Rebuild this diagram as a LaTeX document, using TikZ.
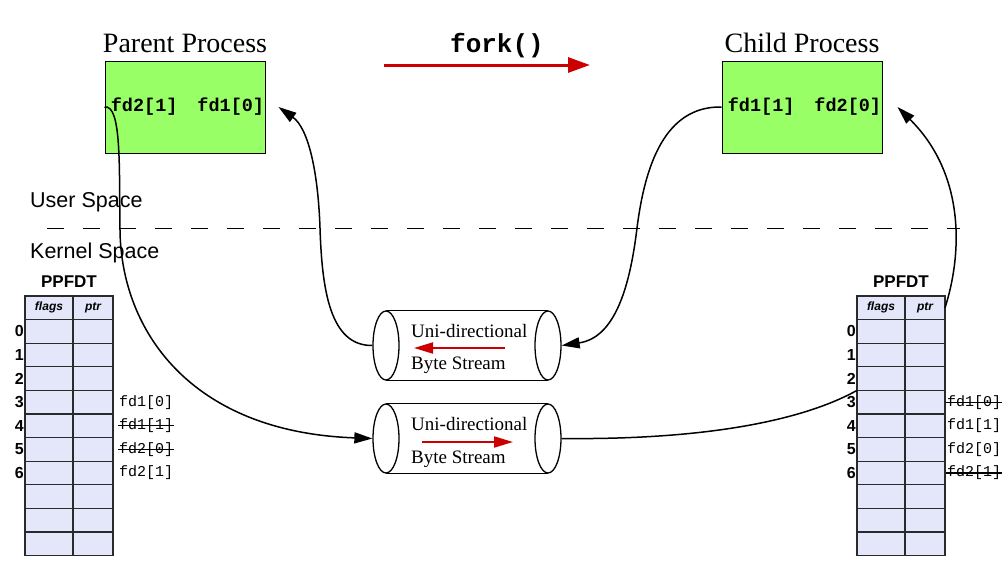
\documentclass[tikz,border=0pt]{standalone}
\usepackage{fontspec}
\setmainfont{Liberation Serif}
\setsansfont{Liberation Sans}
\setmonofont{Liberation Mono}
\usetikzlibrary{shapes.geometric,arrows.meta,positioning}
\definecolor{procgreen}{HTML}{99FF66}
\definecolor{tablefill}{HTML}{E4E6FA}
\definecolor{pipered}{HTML}{CC0000}
\definecolor{gridline}{HTML}{2A2A2A}

\tikzset{
  procbox/.style={rectangle,draw=black,line width=1pt,fill=procgreen,minimum width=160pt,
    minimum height=92pt,inner sep=0pt,font=\ttfamily\bfseries\fontsize{18.5}{20}\selectfont},
  proctitle/.style={inner sep=0pt,anchor=base,font=\fontsize{28}{30}\selectfont},
  spacelabel/.style={inner sep=0pt,anchor=base west,font=\sffamily\fontsize{21.5}{24}\selectfont},
  cell/.style={rectangle,draw=gridline,line width=1.1pt,fill=tablefill,inner sep=0pt,outer sep=0pt,
    minimum height=23.6pt,anchor=north west},
  headtext/.style={font=\sffamily\bfseries\itshape\fontsize{12}{13}\selectfont},
  rownum/.style={inner sep=1pt,anchor=east,font=\sffamily\bfseries\fontsize{16}{17}\selectfont},
  tabtitle/.style={inner sep=0pt,anchor=base,font=\sffamily\bfseries\fontsize{17}{18}\selectfont},
  fdlabel/.style={inner sep=1pt,anchor=west,text=black,font=\ttfamily\fontsize{15}{16}\selectfont},
  strikeline/.style={line width=1.1pt,draw=black},
  pipeend/.style={ellipse,draw,line width=1.3pt,minimum width=26pt,minimum height=69pt,inner sep=0pt},
  pipetext/.style={inner sep=0pt,anchor=base west,font=\fontsize{19}{20}\selectfont},
  conn/.style={line width=1.5pt,-{Triangle[length=18pt,width=11pt]}},
  redarrow/.style={draw=pipered,line width=2pt,-{Triangle[length=19pt,width=11pt]},pipered},
}

% table of one process: #1 prefix, #2 left x
\newcommand{\fdtable}[2]{%
  \node[cell,minimum width=48pt] (#1-h1) at (#2,296) {};
  \node[cell,minimum width=40pt,right=0pt of #1-h1] (#1-h2) {};
  \node[headtext] at (#1-h1) {flags};
  \node[headtext] at (#1-h2) {ptr};
  \foreach \r in {0,...,9}{
    \node[cell,minimum width=48pt] (#1-a\r) at (#2,{319.6+23.6*\r}) {};
    \node[cell,minimum width=40pt,right=0pt of #1-a\r] (#1-b\r) {};
  }
  \foreach \r in {0,...,6}
    \node[rownum,left=0pt of #1-a\r] (#1-n\r) {\r};
  \node[tabtitle] (#1-title) at ({#2+44},287) {PPFDT};
}

% a pipe drawn as a cylinder lying on its side
\newcommand{\bytepipe}[2]{%
  \node[pipeend] (#1-l) at (386,#2) {};
  \node[pipeend] (#1-r) at (548,#2) {};
  \draw[line width=1.3pt] (#1-l.north) -- (#1-r.north) (#1-l.south) -- (#1-r.south);
}

\begin{document}
\begin{tikzpicture}[x=1pt,y=-1pt]
\useasboundingbox (0,0) rectangle (1005,562);

% processes
\node[procbox] (parent) at (185,107) {\hspace{5pt}fd2[1]\hspace{20pt}fd1[0]};
\node[procbox] (child) at (802,107) {\hspace{5pt}fd1[1]\hspace{20pt}fd2[0]};
\node[proctitle] (parentTitle) at ([yshift=8pt]parent.north) {Parent Process};
\node[proctitle] (childTitle) at ([yshift=8pt]child.north) {Child Process};

\node[inner sep=0pt,anchor=base,font=\ttfamily\bfseries\fontsize{26}{28}\selectfont] (forkLabel) at (497,52) {fork()};
\coordinate (forkA) at (384,65);
\coordinate (forkB) at (590,65);
\draw[draw=pipered,line width=3pt,-{Triangle[length=22pt,width=15pt]},pipered] (forkA) -- (forkB);

% user / kernel boundary
\node[spacelabel] (userSpace) at (30,207) {User Space};
\node[spacelabel] (kernelSpace) at (30,258) {Kernel Space};
\draw[line width=1pt,dash pattern=on 17pt off 19pt] (47,228) -- (960,228);

% descriptor tables
\fdtable{L}{25}
\fdtable{R}{857}

\node[fdlabel] (L-fd10) at ([xshift=5pt]L-b3.east) {fd1[0]};
\node[fdlabel] (L-fd11) at ([xshift=5pt]L-b4.east) {fd1[1]};
\node[fdlabel] (L-fd20) at ([xshift=5pt]L-b5.east) {fd2[0]};
\node[fdlabel] (L-fd21) at ([xshift=5pt]L-b6.east) {fd2[1]};
\draw[strikeline] (L-fd11.west) -- (L-fd11.east);
\draw[strikeline] (L-fd20.west) -- (L-fd20.east);

\node[fdlabel] (R-fd10) at ([xshift=1pt]R-b3.east) {fd1[0]};
\node[fdlabel] (R-fd11) at ([xshift=1pt]R-b4.east) {fd1[1]};
\node[fdlabel] (R-fd20) at ([xshift=1pt]R-b5.east) {fd2[0]};
\node[fdlabel] (R-fd21) at ([xshift=1pt]R-b6.east) {fd2[1]};
\draw[strikeline] (R-fd10.west) -- (R-fd10.east);
\draw[strikeline] (R-fd21.west) -- (R-fd21.east);

% pipes
\bytepipe{pipeUp}{345.5}
\bytepipe{pipeDown}{438.5}

\node[pipetext] (upTop) at (411,337) {Uni-directional};
\node[pipetext] (upBot) at (411,369) {Byte Stream};
\coordinate (upA) at (505,348);
\coordinate (upB) at (414,348);
\draw[redarrow] (upA) -- (upB);

\node[pipetext] (downTop) at (411,430) {Uni-directional};
\node[pipetext] (downBot) at (411,463) {Byte Stream};
\coordinate (downA) at (422,442);
\coordinate (downB) at (513,442);
\draw[redarrow] (downA) -- (downB);

% connectors
\draw[conn] (parent.west) .. controls (122,104) and (119,170) .. (120,230)
  .. controls (121,330) and (190,432) .. (pipeDown-l.west);
\draw[conn] (pipeUp-l.west) .. controls (330,346) and (322,290) .. (320,228)
  .. controls (318,170) and (308,128) .. ([xshift=13pt]parent.east);
\draw[conn] (child.west) .. controls (665,106) and (645,165) .. (637,228)
  .. controls (629,295) and (612,338) .. (pipeUp-r.east);
\draw[line width=1.5pt] (pipeDown-r.east) .. controls (700,440) and (800,422) .. (R-a3.north west);
\draw[conn] (R-h2.east) .. controls (962,255) and (966,175) .. ([xshift=15pt]child.east);
\end{tikzpicture}
\end{document}
